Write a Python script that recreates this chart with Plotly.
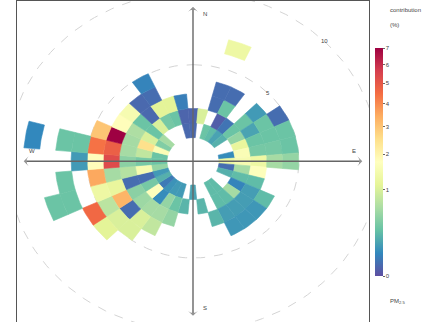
import math
import plotly.graph_objects as go
from plotly.colors import diverging, sample_colorscale

# ---------------- data (wind direction bin, wind-speed bin lower edge, contribution %) ----------------
wd_ws0 = [0, 20, 30, 40, 50, 80, 90, 100, 110, 140, 150, 180, 200, 210, 220, 230, 240, 250, 260, 270, 280, 290, 300, 310, 350]
val_ws0 = [0.015, 0.3, 0.25, 0.15, 0.2, 0.08, 1.3, 0.02, 0.2, 0.25, 0.25, 0.15, 0.12, 0.12, 0.1, 0.04, 0.2, 0.12, 0.5, 0.3, 0.3, 1.6, 0.4, 0.6, 0.015]

wd_ws1 = [0, 10, 30, 40, 50, 60, 70, 80, 90, 100, 110, 120, 130, 140, 150, 170, 190, 200, 210, 220, 230, 240, 250, 260, 270, 280, 290, 300, 310, 320, 330, 340, 350]
val_ws1 = [0.01, 1.0, 0.005, 0.03, 0.3, 0.5, 1.2, 1.6, 1.5, 0.6, 0.25, 0.06, 0.6, 0.25, 0.25, 0.22, 0.22, 0.3, 0.5, 0.08, 1.7, 0.35, 0.02, 1.5, 0.35, 0.8, 2.5, 1.0, 0.3, 1.0, 0.35, 0.3, 0.01]

wd_ws2 = [20, 30, 50, 60, 70, 80, 90, 100, 110, 120, 130, 140, 150, 160, 200, 210, 220, 230, 240, 250, 260, 270, 280, 290, 300, 310, 320, 330, 340, 350]
val_ws2 = [0.02, 0.3, 0.3, 0.15, 0.3, 0.35, 1.3, 1.7, 0.25, 0.13, 0.13, 0.13, 0.13, 0.22, 0.5, 0.6, 0.6, 0.55, 0.45, 0.02, 0.7, 0.45, 0.6, 0.6, 0.65, 0.3, 0.015, 1.1, 1.1, 0.05]

wd_ws3 = [20, 30, 50, 60, 70, 80, 90, 120, 130, 140, 150, 210, 220, 230, 240, 250, 260, 270, 280, 290, 300, 310, 320, 330]
val_ws3 = [0.02, 0.02, 0.12, 0.3, 0.3, 0.35, 0.6, 0.25, 0.11, 0.11, 0.11, 0.8, 1.0, 0.02, 3.3, 1.2, 0.6, 5.3, 4.8, 7.0, 1.8, 1.5, 0.015, 0.02]

wd_ws4 = [60, 70, 80, 90, 220, 230, 240, 250, 260, 270, 280, 290, 330]
val_ws4 = [0.02, 0.3, 0.3, 0.5, 1.0, 1.0, 0.75, 1.3, 3.5, 1.8, 4.4, 3.0, 0.06]

wd_ws5 = [230, 240, 270, 280]
val_ws5 = [1.1, 4.6, 0.12, 0.3]

wd_ws6 = [20, 250, 260, 280]
val_ws6 = [1.3, 0.3, 0.3, 0.3]

wd_ws7 = [250]
val_ws7 = [0.3]

wd_ws8 = [280]
val_ws8 = [0.07]

ring_ws = [5, 10]
ring_labels = ["5", "10"]
compass_labels = ["N", "E", "S", "W"]
cbar_values = [0, 1, 2, 3, 4, 5, 6, 7]

# ---------------- geometry / style ----------------
OFFSET = 1.63      # inner hole (in ws units)
UPPER = 10.6       # arrow half-length
LIM = 11.02        # panel half-range
CMAX = math.sqrt(7)
FONT = "Liberation Sans, Arial"

spectral_r = diverging.Spectral[::-1]
cscale = [[i / (len(spectral_r) - 1), c] for i, c in enumerate(spectral_r)]

wd_groups = [wd_ws0, wd_ws1, wd_ws2, wd_ws3, wd_ws4, wd_ws5, wd_ws6, wd_ws7, wd_ws8]
val_groups = [val_ws0, val_ws1, val_ws2, val_ws3, val_ws4, val_ws5, val_ws6, val_ws7, val_ws8]

fig = go.Figure()

# speed rings (under the cells)
for w in ring_ws:
    r = w + OFFSET
    th = [math.radians(a) for a in range(0, 361, 2)]
    fig.add_trace(go.Scatter(
        x=[r * math.sin(t) for t in th], y=[r * math.cos(t) for t in th],
        mode="lines", line=dict(color="#d4d4d4", width=1, dash="dash"),
        hoverinfo="skip", showlegend=False))


def cell(d, n):
    th = [math.radians(d - 5 + 10 * i / 12) for i in range(13)]
    r0, r1 = n + OFFSET, n + 1 + OFFSET
    xs = [r1 * math.sin(t) for t in th] + [r0 * math.sin(t) for t in reversed(th)]
    ys = [r1 * math.cos(t) for t in th] + [r0 * math.cos(t) for t in reversed(th)]
    return xs + [xs[0]], ys + [ys[0]]


for n, (dirs, vals) in enumerate(zip(wd_groups, val_groups)):
    for d, v in zip(dirs, vals):
        col = sample_colorscale(cscale, [math.sqrt(v) / CMAX])[0]
        xs, ys = cell(d, n)
        fig.add_trace(go.Scatter(
            x=xs, y=ys, mode="lines", fill="toself", fillcolor=col,
            line=dict(color=col, width=0.6), hoverinfo="skip", showlegend=False))

# compass arrows (double-headed: two half arrows from the centre)
for (x, y) in [(0, UPPER), (UPPER, 0), (0, -UPPER), (-UPPER, 0)]:
    fig.add_trace(go.Scatter(
        x=[0, x], y=[0, y], mode="lines+markers", hoverinfo="skip", showlegend=False,
        line=dict(color="#666", width=1.4),
        marker=dict(symbol="arrow-wide", angleref="previous", size=[0, 7],
                    color="#666", line=dict(width=0))))

# colour bar (sqrt scale)
fig.add_trace(go.Scatter(
    x=[0], y=[0], mode="markers", hoverinfo="skip", showlegend=False,
    marker=dict(size=1, opacity=0, color=[0], colorscale=cscale, cmin=0, cmax=CMAX,
                showscale=True,
                colorbar=dict(thickness=8, thicknessmode="pixels",
                              len=228 / 322, lenmode="fraction",
                              x=375 / 422, xanchor="left", xpad=0,
                              y=1 - 162 / 322, yanchor="middle", ypad=0,
                              outlinewidth=0,
                              tickvals=[math.sqrt(v) for v in cbar_values],
                              ticktext=[str(v) for v in cbar_values],
                              ticks="outside", ticklen=2, tickwidth=1, tickcolor="#666",
                              tickfont=dict(size=6, color="#444", family=FONT)))))

annotations = []
# compass letters
pos = {"N": (0.07 * UPPER, 0.95 * UPPER), "E": (0.95 * UPPER, 0.07 * UPPER),
       "S": (0.07 * UPPER, -0.95 * UPPER), "W": (-0.95 * UPPER, 0.07 * UPPER)}
for lab in compass_labels:
    x, y = pos[lab]
    annotations.append(dict(x=x, y=y, xref="x", yref="y", text=lab, showarrow=False,
                            font=dict(size=6, color="#444", family=FONT)))
# ring labels
for w, lab in zip(ring_ws, ring_labels):
    r = w + OFFSET
    annotations.append(dict(x=r * math.sin(math.pi / 4), y=r * math.cos(math.pi / 4),
                            xref="x", yref="y", text=lab, showarrow=False,
                            font=dict(size=6, color="#444", family=FONT)))
# colour bar titles
annotations += [
    dict(x=388 / 422, y=1 - 10 / 322, xref="paper", yref="paper", xanchor="left", yanchor="middle",
         text="contribution", showarrow=False, font=dict(size=6, color="#444", family=FONT)),
    dict(x=388 / 422, y=1 - 25 / 322, xref="paper", yref="paper", xanchor="left", yanchor="middle",
         text="(%)", showarrow=False, font=dict(size=6, color="#444", family=FONT)),
    dict(x=388 / 422, y=1 - 301 / 322, xref="paper", yref="paper", xanchor="left", yanchor="middle",
         text="PM<sub>2.5</sub>", showarrow=False, font=dict(size=6, color="#444", family=FONT)),
]

axis_common = dict(range=[-LIM, LIM], showgrid=False, zeroline=False, showticklabels=False,
                   ticks="", showline=True, mirror=True, linecolor="#555", linewidth=1)
fig.update_layout(
    width=422, height=322, margin=dict(l=0, r=0, t=0, b=0),
    paper_bgcolor="white", plot_bgcolor="white", showlegend=False,
    xaxis=dict(domain=[17 / 422, 369 / 422], **axis_common),
    yaxis=dict(domain=[0, 0.998], **axis_common),
    annotations=annotations,
    font=dict(family=FONT),
)

fig.write_html("out.html", config={"displayModeBar": False},
               post_script="document.body.style.margin='0px';document.body.style.overflow='hidden';")
